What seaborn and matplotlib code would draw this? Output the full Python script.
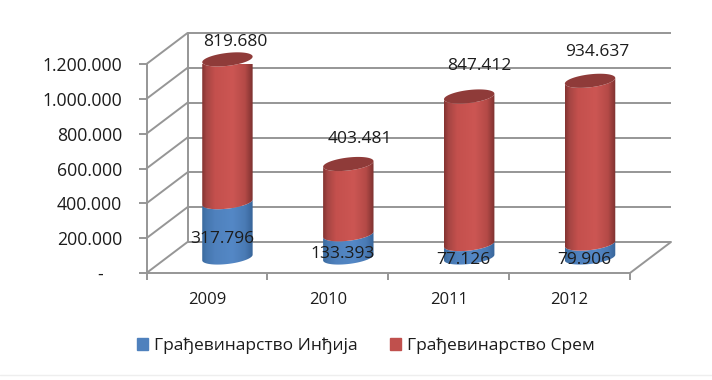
import numpy as np
import matplotlib
matplotlib.use("Agg")
import matplotlib.pyplot as plt
import seaborn as sns
from matplotlib.colors import LinearSegmentedColormap
from matplotlib.patches import Patch, Polygon
from matplotlib.path import Path
from matplotlib.transforms import ScaledTranslation

# ============================================================
# Data
# ============================================================

years = ["2009", "2010", "2011", "2012"]
indjija = [317796, 133393, 77126, 79906]
srem = [819680, 403481, 847412, 934637]
names = ["Грађевинарство Инђија", "Грађевинарство Срем"]
y_ticks = [0, 200000, 400000, 600000, 800000, 1000000, 1200000]
y_tick_labels = ["-    ", "200.000", "400.000", "600.000", "800.000", "1.000.000", "1.200.000"]

# label offsets from the top of each segment, in pixels
indjija_offsets = [(-5, -37), (-6, -20), (-6, -16), (-6, -16)]
srem_offsets = [(8, 17), (12, 25), (10, 30), (7, 29)]

# ============================================================
# Figure
# ============================================================

sns.set_theme(style="white")
plt.rcParams["font.family"] = ["Open Sans", "DejaVu Sans"]

DPI = 100
TEXT = "#1c1c1c"
LINE = "#969696"
DEPTH_X, DEPTH_Y = 41, 31  # depth of the 3D box, pixels

fig = plt.figure(figsize=(7.12, 3.8), dpi=DPI, facecolor="white")
ax = fig.add_axes([146.5 / 712, 1 - 273 / 380, 483.5 / 712, 209 / 380])


def shifted(frac):
    return ax.transData + ScaledTranslation(DEPTH_X * frac / DPI, DEPTH_Y * frac / DPI, fig.dpi_scale_trans)


sns.barplot(x=years, y=indjija, color="#4F81BD", width=0.417, ax=ax, legend=False)
sns.barplot(x=years, y=srem, bottom=indjija, color="#C0504D", width=0.417, ax=ax, legend=False)

ax.set_xlim(-0.5, 3.5)
ax.set_ylim(0, 1200000)

# ============================================================
# Axes and 3D box
# ============================================================

sns.despine(ax=ax)
for side in ["left", "bottom"]:
    ax.spines[side].set_color(LINE)
    ax.spines[side].set_linewidth(1.4)

ax.set_yticks(y_ticks)
ax.set_yticklabels(y_tick_labels, fontsize=12.7, color=TEXT)
ax.set_xticks(range(4))
ax.set_xticklabels(years, fontsize=12, color=TEXT)
ax.set_xticks(np.arange(-0.5, 4), minor=True)
ax.tick_params(axis="y", left=True, length=6, width=1.4, color=LINE, pad=11.5)
ax.tick_params(axis="x", which="major", bottom=False, pad=7.7)
ax.tick_params(axis="x", which="minor", bottom=True, length=5, width=1.4, color=LINE)

back = shifted(1.0)
ax.hlines(y_ticks, -0.5, 3.5, colors=LINE, linewidth=1.4, transform=back, clip_on=False, zorder=0.5)
ax.plot([-0.5, -0.5], [0, 1200000], color=LINE, lw=1.4, transform=back, clip_on=False, zorder=0.5)

data_per_px = 1200000 / 209
x_per_px = 4 / 483.5
for tick in y_ticks:
    ax.plot([-0.5, -0.5 + DEPTH_X * x_per_px], [tick, tick + DEPTH_Y * data_per_px],
            color=LINE, lw=1.4, clip_on=False, zorder=0.5)
ax.plot([3.5, 3.5 + DEPTH_X * x_per_px], [0, DEPTH_Y * data_per_px],
        color=LINE, lw=1.4, clip_on=False, zorder=0.5)

# ============================================================
# Cylinders on top of the seaborn bars
# ============================================================

mid = shifted(0.5)
red_map = LinearSegmentedColormap.from_list("red", [
    (0, "#853432"), (0.08, "#A54543"), (0.25, "#C4504D"),
    (0.6, "#CC5653"), (0.85, "#B54A47"), (1, "#7E3230")])
blue_map = LinearSegmentedColormap.from_list("blue", [
    (0, "#3A6A9E"), (0.08, "#4576AE"), (0.25, "#4F81BD"),
    (0.6, "#5488C6"), (0.85, "#4A7BB5"), (1, "#38659A")])
b = 6.5 * data_per_px   # ellipse half height
tilt = 2.8 * data_per_px
t = np.linspace(np.pi, 2 * np.pi, 60)


def lower_arc(cx, half, base, angle):
    return np.column_stack([cx + half * np.cos(angle), base + b * np.sin(angle) + tilt * np.cos(angle)])


n = len(years)
patches = list(ax.patches)
for i, bar in enumerate(patches):
    bar.set_visible(False)
    cx = bar.get_x() + bar.get_width() / 2
    half = bar.get_width() / 2
    low, high = bar.get_y(), bar.get_y() + bar.get_height()
    cmap = blue_map if i < n else red_map
    outline = np.vstack([lower_arc(cx, half, low, t), lower_arc(cx, half, high, t)[::-1]])
    path = Path(np.vstack([outline, outline[0]]), closed=True)
    im = ax.imshow(np.linspace(0, 1, 64).reshape(1, -1), cmap=cmap, aspect="auto",
                   extent=[cx - half, cx + half, low - 2 * b, high + 2 * b],
                   transform=mid, zorder=2 + i * 0.01)
    im.set_clip_path(path, mid)
    if i >= n:
        cap = lower_arc(cx, half, high, np.linspace(0, 2 * np.pi, 120))
        ax.add_patch(Polygon(cap, closed=True, facecolor="#8F3B39", edgecolor="none",
                             transform=mid, zorder=3, clip_on=False))

ax.set_xlim(-0.5, 3.5)
ax.set_ylim(0, 1200000)

# ============================================================
# Value labels
# ============================================================


def fmt(value):
    return f"{value:,}".replace(",", ".")


for i in range(n):
    blue_top = indjija[i]
    red_top = indjija[i] + srem[i]
    ax.annotate(fmt(indjija[i]), (i, blue_top), xycoords=mid, xytext=indjija_offsets[i],
                textcoords="offset pixels", ha="center", va="center", fontsize=12.5,
                color=TEXT, zorder=5, annotation_clip=False)
    ax.annotate(fmt(srem[i]), (i, red_top), xycoords=mid, xytext=srem_offsets[i],
                textcoords="offset pixels", ha="center", va="center", fontsize=12.5,
                color=TEXT, zorder=5, annotation_clip=False)

# ============================================================
# Legend
# ============================================================

handles = [Patch(color="#4F81BD", label=names[0]), Patch(color="#C0504D", label=names[1])]
fig.legend(handles=handles, loc="center", bbox_to_anchor=(366 / 712, 1 - 346 / 380), ncol=2,
           frameon=False, fontsize=12.5, handlelength=0.63, handleheight=0.63, handletextpad=0.35,
           columnspacing=1.85, labelcolor=TEXT)

fig.add_artist(plt.Line2D([0, 1], [1 - 374.5 / 380] * 2, color="#eeeeee", lw=1))

plt.savefig("out.png", dpi=DPI)
